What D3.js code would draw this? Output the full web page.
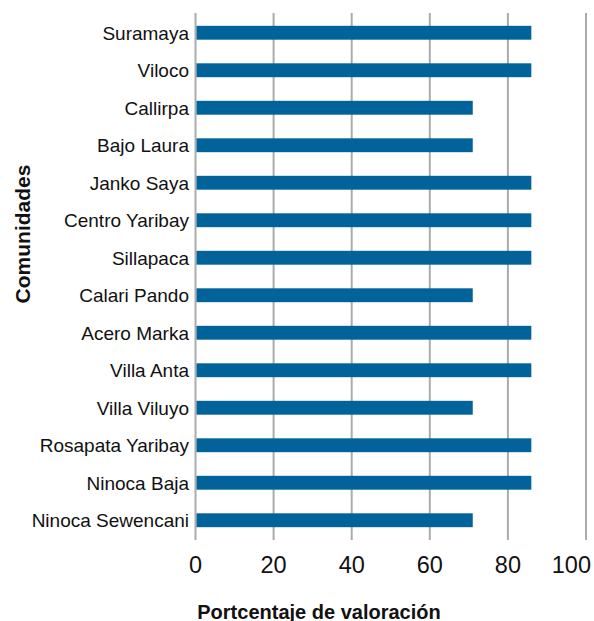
<!DOCTYPE html>
<html>
<head>
<meta charset="utf-8">
<script src="https://cdn.jsdelivr.net/npm/d3@7"></script>
<style>
  html, body { margin: 0; padding: 0; background: #fff; }
  svg { display: block; font-family: "Liberation Sans", Arial, sans-serif; }
</style>
</head>
<body>
<svg id="chart" width="594" height="621"></svg>
<script>
// Communities, top to bottom
const comunidades = [
  "Suramaya", "Viloco", "Callirpa", "Bajo Laura", "Janko Saya",
  "Centro Yaribay", "Sillapaca", "Calari Pando", "Acero Marka",
  "Villa Anta", "Villa Viluyo", "Rosapata Yaribay", "Ninoca Baja",
  "Ninoca Sewencani"
];
// Valuation percentage per community
const valoracion = [86, 86, 71, 71, 86, 86, 86, 71, 86, 86, 71, 86, 86, 71];
// X-axis ticks
const xTicks = [0, 20, 40, 60, 80, 100];

const svg = d3.select("#chart");

const x = d3.scaleLinear().domain([0, 100]).range([195.5, 586]);
const y = d3.scaleBand().domain(comunidades).range([14, 539]).paddingInner(0.63).paddingOuter(0.315);

// vertical gridlines
svg.append("g").selectAll("line").data(xTicks).join("line")
  .attr("x1", d => x(d)).attr("x2", d => x(d))
  .attr("y1", 13).attr("y2", 540)
  .attr("stroke", "#ababab").attr("stroke-width", 2);

// bars
svg.append("g").selectAll("rect").data(comunidades).join("rect")
  .attr("x", x(0) + 1)
  .attr("y", d => y(d))
  .attr("width", (d, i) => x(valoracion[i]) - x(0) - 1)
  .attr("height", y.bandwidth())
  .attr("fill", "#02639a");

// category labels
svg.append("g").selectAll("text").data(comunidades).join("text")
  .attr("x", 189)
  .attr("y", d => y(d) + y.bandwidth() / 2)
  .attr("dy", "0.37em")
  .attr("text-anchor", "end")
  .attr("font-size", 19)
  .attr("fill", "#111")
  .text(d => d);

// x tick labels (last one kept inside the frame)
svg.append("g").selectAll("text").data(xTicks).join("text")
  .attr("x", (d, i) => i === xTicks.length - 1 ? 591 : x(d))
  .attr("y", 572.5)
  .attr("text-anchor", (d, i) => i === xTicks.length - 1 ? "end" : "middle")
  .attr("font-size", 23.5)
  .attr("fill", "#111")
  .text(d => d);

// axis titles
svg.append("text")
  .attr("x", 319).attr("y", 618.5)
  .attr("text-anchor", "middle")
  .attr("font-size", 20).attr("font-weight", "bold")
  .attr("fill", "#111")
  .text("Portcentaje de valoración");

svg.append("text")
  .attr("transform", "translate(30,234) rotate(-90)")
  .attr("text-anchor", "middle")
  .attr("font-size", 21).attr("font-weight", "bold")
  .attr("fill", "#111")
  .text("Comunidades");
</script>
</body>
</html>
